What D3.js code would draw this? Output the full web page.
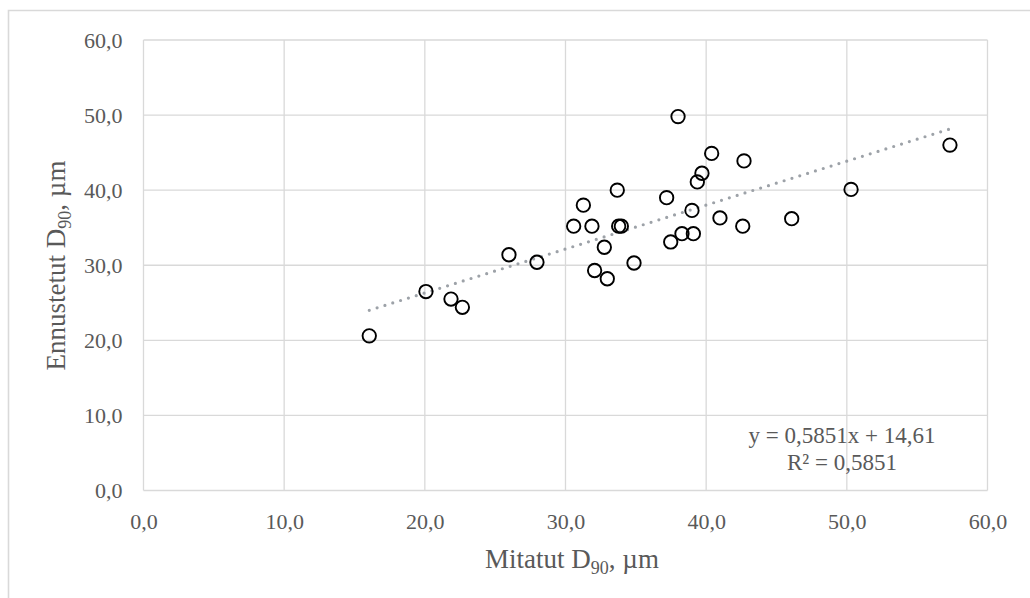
<!DOCTYPE html>
<html>
<head>
<meta charset="utf-8">
<script src="https://cdn.jsdelivr.net/npm/d3@7"></script>
<style>
  html, body { margin: 0; padding: 0; background: #fff; }
  svg { display: block; }
  svg text { font-family: "Liberation Serif", "Times New Roman", serif; }
</style>
</head>
<body>
<svg id="chart" width="1030" height="598"></svg>
<script>
// ---- Data ----
const measured  = [16.05, 20.08, 21.86, 22.67, 25.98, 27.97, 30.58, 31.27, 31.88, 32.07, 32.76, 32.97, 33.68, 33.78, 33.97, 34.87, 37.19, 37.48, 38.0, 38.28, 38.99, 39.09, 39.37, 39.70, 40.39, 40.98, 42.60, 42.69, 46.08, 50.30, 57.33];
const predicted = [20.6, 26.5, 25.5, 24.4, 31.4, 30.4, 35.2, 38.0, 35.2, 29.3, 32.4, 28.2, 40.0, 35.2, 35.2, 30.3, 39.0, 33.1, 49.8, 34.2, 37.3, 34.2, 41.1, 42.25, 44.9, 36.3, 35.2, 43.9, 36.2, 40.1, 46.0];
const xTicks = [0, 10, 20, 30, 40, 50, 60];
const yTicks = [0, 10, 20, 30, 40, 50, 60];
const trendSlope = 0.5851;
const trendIntercept = 14.61;
const equationLines = ["y = 0,5851x + 14,61", "R\u00B2 = 0,5851"];

// ---- Layout ----
const svg = d3.select("#chart");
const x = d3.scaleLinear().domain([0, 60]).range([143.5, 987.5]);
const y = d3.scaleLinear().domain([0, 60]).range([490.5, 40]);
const fmt = d => d.toFixed(1).replace(".", ",");
const gridColor = "#d9d9d9";
const textColor = "#595959";
const serif = "Liberation Serif, Times New Roman, serif";

// outer chart border
svg.append("path")
  .attr("d", "M8.5,600 L8.5,10.5 L1040,10.5")
  .attr("fill", "none").attr("stroke", gridColor).attr("stroke-width", 1.6);

// gridlines
svg.append("g").selectAll("line").data(xTicks).join("line")
  .attr("x1", d => x(d)).attr("x2", d => x(d))
  .attr("y1", y(0)).attr("y2", y(60))
  .attr("stroke", gridColor).attr("stroke-width", 1.3);
svg.append("g").selectAll("line").data(yTicks).join("line")
  .attr("x1", x(0)).attr("x2", x(60))
  .attr("y1", d => y(d)).attr("y2", d => y(d))
  .attr("stroke", gridColor).attr("stroke-width", 1.3);

// axes (labels only)
const xAxis = svg.append("g").attr("transform", `translate(0,${y(0)})`)
  .call(d3.axisBottom(x).tickValues(xTicks).tickFormat(fmt).tickSize(0).tickPadding(23));
const yAxis = svg.append("g").attr("transform", `translate(${x(0)},0)`)
  .call(d3.axisLeft(y).tickValues(yTicks).tickFormat(fmt).tickSize(0).tickPadding(21));
[xAxis, yAxis].forEach(g => {
  g.attr("font-family", serif).attr("font-size", 22);
  g.select(".domain").remove();
  g.selectAll("text")
    .attr("fill", textColor)
    .attr("font-family", serif)
    .attr("font-size", 22);
});
xAxis.selectAll("text").attr("dy", "0.71em");

// trendline
const tx0 = d3.min(measured), tx1 = d3.max(measured);
svg.append("line")
  .attr("x1", x(tx0)).attr("y1", y(trendSlope * tx0 + trendIntercept))
  .attr("x2", x(tx1)).attr("y2", y(trendSlope * tx1 + trendIntercept))
  .attr("stroke", "#9da2a8").attr("stroke-width", 3.2)
  .attr("stroke-linecap", "round").attr("stroke-dasharray", "0 8.2");

// points
svg.append("g").selectAll("circle").data(measured.map((m, i) => [m, predicted[i]])).join("circle")
  .attr("cx", d => x(d[0])).attr("cy", d => y(d[1]))
  .attr("r", 6.7)
  .attr("fill", "none").attr("stroke", "#000").attr("stroke-width", 1.9);

// equation
svg.append("g").selectAll("text").data(equationLines).join("text")
  .attr("x", 842).attr("y", (d, i) => 443 + i * 27)
  .attr("text-anchor", "middle")
  .attr("fill", textColor).attr("font-family", serif).attr("font-size", 23)
  .text(d => d);

// axis titles
function title(sel, main, sub, rest) {
  sel.append("tspan").text(main);
  sel.append("tspan").attr("dy", 6).attr("font-size", 18).text(sub);
  sel.append("tspan").attr("dy", -6).text(rest);
}
const xt = svg.append("text")
  .attr("x", 572).attr("y", 568)
  .attr("text-anchor", "middle").attr("fill", textColor)
  .attr("font-family", serif).attr("font-size", 27);
title(xt, "Mitatut D", "90", ", \u00B5m");

const yt = svg.append("text")
  .attr("transform", "translate(65,265.5) rotate(-90)")
  .attr("text-anchor", "middle").attr("fill", textColor)
  .attr("font-family", serif).attr("font-size", 27);
title(yt, "Ennustetut D", "90", ", \u00B5m");
</script>
</body>
</html>
